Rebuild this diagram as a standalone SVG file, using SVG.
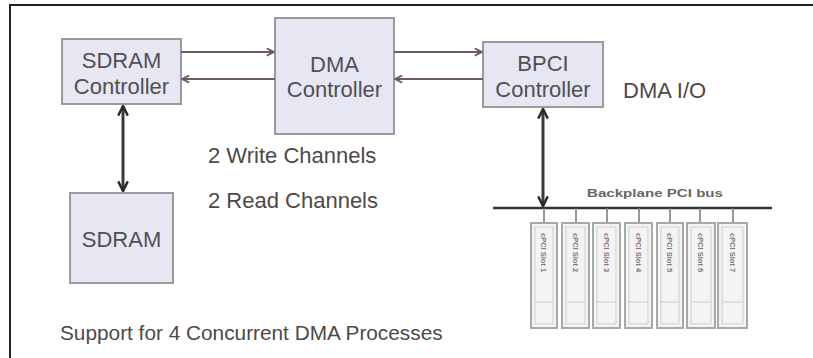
<svg xmlns="http://www.w3.org/2000/svg" width="813" height="358" viewBox="0 0 813 358">
  <style>
    .box { fill: #e6e7f3; stroke: #9a9a9e; stroke-width: 2; }
    .lbl { font-family: "Liberation Sans", Arial, sans-serif; font-size: 22px; fill: #505054; text-anchor: middle; }
    .note { font-family: "Liberation Sans", Arial, sans-serif; font-size: 22px; fill: #4e4848; }
    .note.small { font-size: 20.8px; }
    .link { stroke: #6e5c5e; stroke-width: 2; fill: none; }
    .bi { stroke: #3a3a3a; stroke-width: 3; fill: none; }
    .card { fill: #f3f3f3; stroke: #a8a8a8; stroke-width: 2; }
    .cardin { fill: none; stroke: #cfcfcf; stroke-width: 1; }
    .cardtxt { font-family: "Liberation Sans", Arial, sans-serif; font-size: 7.5px; font-weight: bold; fill: #7a7a7a; }
    .stub { stroke: #777; stroke-width: 1.5; }
  </style>
  <defs>
    <marker id="open" viewBox="0 0 10 10" refX="9" refY="5" markerWidth="9" markerHeight="9" orient="auto-start-reverse" markerUnits="userSpaceOnUse">
      <path d="M1,1 L9,5 L1,9" fill="none" stroke="#6e5c5e" stroke-width="2"/>
    </marker>
    <marker id="solid" viewBox="0 0 10 10" refX="9" refY="5" markerWidth="12" markerHeight="12" orient="auto-start-reverse" markerUnits="userSpaceOnUse">
      <path d="M1,1 L9,5 L1,9" fill="none" stroke="#2a2a2a" stroke-width="2"/>
    </marker>
  </defs>

  <rect x="0" y="0" width="813" height="358" fill="#ffffff"/>
  <!-- frame edges -->
  <path d="M10,358 L10,5 L813,5" fill="none" stroke="#222" stroke-width="2"/>

  <g id="sdram-controller">
    <rect class="box" x="62" y="39" width="119" height="65"/>
    <text class="lbl" x="121.5" y="68">SDRAM</text>
    <text class="lbl" x="121.5" y="94">Controller</text>
  </g>

  <g id="dma-controller">
    <rect class="box" x="275" y="18" width="119" height="116"/>
    <text class="lbl" x="334.5" y="72">DMA</text>
    <text class="lbl" x="334.5" y="97">Controller</text>
  </g>

  <g id="bpci-controller">
    <rect class="box" x="483" y="42" width="120" height="65"/>
    <text class="lbl" x="543" y="71">BPCI</text>
    <text class="lbl" x="543" y="97">Controller</text>
  </g>

  <g id="sdram">
    <rect class="box" x="70" y="193" width="103" height="90"/>
    <text class="lbl" x="121.5" y="247">SDRAM</text>
  </g>

  <g id="pci-backplane">
    <line x1="493" y1="208" x2="772" y2="208" stroke="#333" stroke-width="2.5"/>
    <text x="587" y="197" textLength="136" lengthAdjust="spacingAndGlyphs" font-family="Liberation Sans, Arial, sans-serif" font-size="11" font-weight="bold" fill="#666">Backplane PCI bus</text>
    <g id="slot-1">
      <line class="stub" x1="544" y1="208" x2="544" y2="223"/>
      <rect class="card" x="531" y="223" width="26" height="105"/>
      <rect class="cardin" x="535" y="227" width="18" height="97"/>
      <line class="cardin" x1="535" y1="302" x2="553" y2="302"/>
      <text class="cardtxt" transform="translate(541,233) rotate(90)">cPCI Slot 1</text>
    </g>
    <g id="slot-2">
      <line class="stub" x1="576" y1="208" x2="576" y2="223"/>
      <rect class="card" x="562" y="223" width="27" height="105"/>
      <rect class="cardin" x="566" y="227" width="19" height="97"/>
      <line class="cardin" x1="566" y1="302" x2="585" y2="302"/>
      <text class="cardtxt" transform="translate(573,233) rotate(90)">cPCI Slot 2</text>
    </g>
    <g id="slot-3">
      <line class="stub" x1="607" y1="208" x2="607" y2="223"/>
      <rect class="card" x="593" y="223" width="27" height="105"/>
      <rect class="cardin" x="597" y="227" width="19" height="97"/>
      <line class="cardin" x1="597" y1="302" x2="616" y2="302"/>
      <text class="cardtxt" transform="translate(604,233) rotate(90)">cPCI Slot 3</text>
    </g>
    <g id="slot-4">
      <line class="stub" x1="639" y1="208" x2="639" y2="223"/>
      <rect class="card" x="625" y="223" width="27" height="105"/>
      <rect class="cardin" x="629" y="227" width="19" height="97"/>
      <line class="cardin" x1="629" y1="302" x2="648" y2="302"/>
      <text class="cardtxt" transform="translate(636,233) rotate(90)">cPCI Slot 4</text>
    </g>
    <g id="slot-5">
      <line class="stub" x1="670" y1="208" x2="670" y2="223"/>
      <rect class="card" x="657" y="223" width="26" height="105"/>
      <rect class="cardin" x="661" y="227" width="18" height="97"/>
      <line class="cardin" x1="661" y1="302" x2="679" y2="302"/>
      <text class="cardtxt" transform="translate(667,233) rotate(90)">cPCI Slot 5</text>
    </g>
    <g id="slot-6">
      <line class="stub" x1="700" y1="208" x2="700" y2="223"/>
      <rect class="card" x="687" y="223" width="28" height="105"/>
      <rect class="cardin" x="691" y="227" width="20" height="97"/>
      <line class="cardin" x1="691" y1="302" x2="711" y2="302"/>
      <text class="cardtxt" transform="translate(698,233) rotate(90)">cPCI Slot 6</text>
    </g>
    <g id="slot-7">
      <line class="stub" x1="733" y1="208" x2="733" y2="223"/>
      <rect class="card" x="718" y="223" width="29" height="105"/>
      <rect class="cardin" x="722" y="227" width="21" height="97"/>
      <line class="cardin" x1="722" y1="302" x2="743" y2="302"/>
      <text class="cardtxt" transform="translate(730,233) rotate(90)">cPCI Slot 7</text>
    </g>
  </g>

  <g id="connectors">
    <line class="link" x1="181" y1="52" x2="274" y2="52" marker-end="url(#open)"/>
    <line class="link" x1="275" y1="79" x2="182" y2="79" marker-end="url(#open)"/>
    <line class="link" x1="394" y1="52" x2="482" y2="52" marker-end="url(#open)"/>
    <line class="link" x1="483" y1="79" x2="395" y2="79" marker-end="url(#open)"/>
    <line class="bi" x1="123" y1="106" x2="123" y2="191" marker-start="url(#solid)" marker-end="url(#solid)"/>
    <line class="bi" x1="543" y1="109" x2="543" y2="206" marker-start="url(#solid)" marker-end="url(#solid)"/>
  </g>

  <g id="notes">
    <text class="note" x="623" y="98">DMA I/O</text>
    <text class="note" x="208" y="163">2 Write Channels</text>
    <text class="note" x="208" y="208">2 Read Channels</text>
    <text class="note small" x="60" y="340">Support for 4 Concurrent DMA Processes</text>
  </g>
</svg>
